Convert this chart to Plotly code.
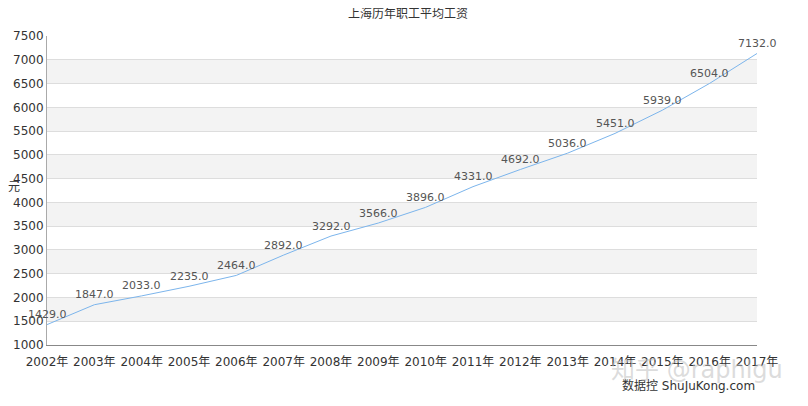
import plotly.graph_objects as go

years = ["2002年", "2003年", "2004年", "2005年", "2006年", "2007年", "2008年", "2009年",
         "2010年", "2011年", "2012年", "2013年", "2014年", "2015年", "2016年", "2017年"]
wages = [1429, 1847, 2033, 2235, 2464, 2892, 3292, 3566, 3896, 4331, 4692, 5036, 5451, 5939, 6504, 7132]
y_ticks = list(range(1000, 8000, 500))
bands = [(1500, 2000), (2500, 3000), (3500, 4000), (4500, 5000), (5500, 6000), (6500, 7000)]

FONT = "DejaVu Sans, Noto Sans CJK SC, sans-serif"
xs = list(range(len(years)))

fig = go.Figure()
fig.add_trace(go.Scatter(
    x=xs, y=wages,
    mode="lines",
    line=dict(color="#7cb5ec", width=1),
    hoverinfo="skip",
))

shapes = []
for lo, hi in bands:
    shapes.append(dict(type="rect", xref="paper", yref="y", x0=0, x1=1, y0=lo, y1=hi,
                       fillcolor="#f3f3f3", line=dict(width=0), layer="below"))

annotations = []
for x, v in zip(xs, wages):
    annotations.append(dict(x=x, y=v, xref="x", yref="y", text=f"{v:.1f}", showarrow=False,
                            xanchor="center", yanchor="middle", yshift=10,
                            font=dict(size=11, color="#555555", family=FONT)))

annotations += [
    dict(text="元", xref="paper", yref="paper", x=-0.047, y=0.51, xanchor="center", yanchor="middle",
         showarrow=False, font=dict(size=12, color="#333333", family=FONT)),
    dict(text="数据控 ShuJuKong.com", xref="paper", yref="paper", x=1.0, y=-0.13,
         xanchor="right", yanchor="middle", showarrow=False,
         font=dict(size=12, color="#333333", family=FONT)),
    dict(text="知乎 @raphlgu", xref="paper", yref="paper", x=1.04, y=-0.08,
         xanchor="right", yanchor="middle", showarrow=False,
         font=dict(size=24, color="rgba(190,190,190,0.55)", family=FONT)),
]

fig.update_layout(
    width=800, height=398,
    margin=dict(l=39, r=51, t=28, b=61, autoexpand=False),
    paper_bgcolor="white", plot_bgcolor="white",
    showlegend=False,
    shapes=shapes,
    annotations=annotations,
    font=dict(family=FONT, size=12, color="#333333"),
    title=dict(text="上海历年职工平均工资", x=0.5, xanchor="center", y=0.985, yanchor="middle",
               font=dict(size=12, color="#333333", family=FONT)),
    xaxis=dict(range=[0, len(years) - 1], tickmode="array",
               tickvals=xs, ticktext=years,
               showgrid=False, zeroline=False, showline=True, linecolor="#888888", linewidth=1,
               ticks="", ticklabelstandoff=6, tickfont=dict(size=12, color="#333333")),
    yaxis=dict(range=[1000, 7500], tickmode="array", tickvals=y_ticks,
               showgrid=True, gridcolor="#dddddd", gridwidth=1, zeroline=False,
               showline=True, linecolor="#aaaaaa", linewidth=1, ticks="",
               tickfont=dict(size=12, color="#333333")),
)

fig.write_html("out.html")
